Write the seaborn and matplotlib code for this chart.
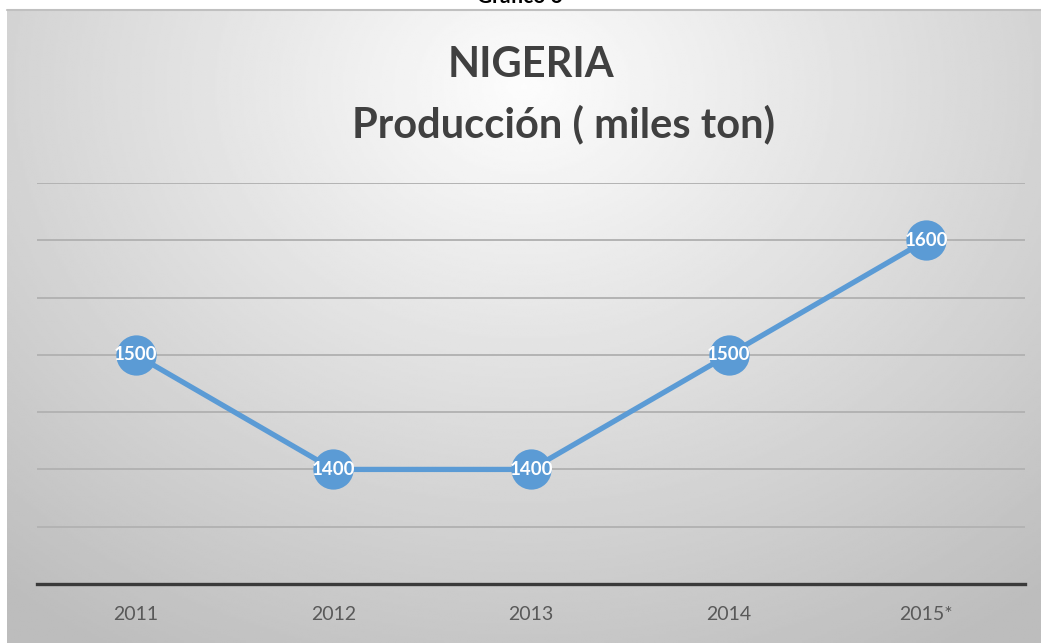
import numpy as np
import pandas as pd
import matplotlib
matplotlib.use("Agg")
import matplotlib.pyplot as plt
import seaborn as sns

# data
years = ["2011", "2012", "2013", "2014", "2015*"]
produccion = [1500, 1400, 1400, 1500, 1600]

df = pd.DataFrame({"anio": years, "prod": produccion})

sns.set_theme(style="white")
plt.rcParams["font.family"] = ["Lato", "DejaVu Sans"]

W, H = 1041, 643
fig = plt.figure(figsize=(W / 100, H / 100), dpi=100)
fig.patch.set_facecolor("white")

# gradient background of the chart area
bg = fig.add_axes([7 / W, 0, 1 - 7 / W, (H - 10) / H])
yy, xx = np.mgrid[0:1:300j, 0:1:500j]
r = np.sqrt(((xx - 0.5) / 0.75) ** 2 + ((yy - 0.12) / 1.0) ** 2)
shade = np.clip(0.99 - 0.24 * r, 0.74, 1.0)
bg.imshow(shade, cmap="gray", vmin=0, vmax=1, aspect="auto",
          extent=[0, 1, 1, 0], interpolation="bilinear")
bg.set_axis_off()
fig.add_artist(plt.Line2D([7 / W, 1], [(H - 10) / H] * 2, color="#c0c0c0", lw=1.5))

fig.text(520 / W, (H - 3) / H, "Gráfico 6", ha="center", va="baseline",
         fontsize=15, fontweight="bold", color="black")

ax = fig.add_axes([37 / W, (H - 584) / H, 988 / W, (584 - 183) / H])
ax.patch.set_alpha(0)

sns.lineplot(data=df, x="anio", y="prod", ax=ax, color="#5b9bd5", lw=3.8,
             marker="o", markersize=29, markeredgewidth=0, sort=False)

for i, v in enumerate(produccion):
    ax.text(i, v, str(v), ha="center", va="center", color="white",
            fontsize=13.5, fontweight="bold")

ax.set_xlim(-0.5, len(years) - 0.5)
ax.set_ylim(1300, 1650)
ax.set_yticks([1350, 1400, 1450, 1500, 1550, 1600, 1650])
ax.yaxis.grid(True, color="#b3b3b3", lw=1.4)
ax.set_axisbelow(True)
ax.set_yticklabels([])
ax.tick_params(axis="y", length=0)
ax.tick_params(axis="x", length=0, labelsize=14, labelcolor="#595959", pad=16)
ax.set_xlabel("")
ax.set_ylabel("")
for s in ["top", "left", "right"]:
    ax.spines[s].set_visible(False)
ax.spines["bottom"].set_color("#3a3a3a")
ax.spines["bottom"].set_linewidth(2.4)

fig.text(531 / W, (H - 77) / H, "NIGERIA", ha="center", va="baseline",
         fontsize=30, fontweight="bold", color="#404040")
fig.text(564 / W, (H - 137) / H, "Producción ( miles ton)", ha="center",
         va="baseline", fontsize=30, fontweight="bold", color="#404040")

fig.savefig("out.png", dpi=100)
